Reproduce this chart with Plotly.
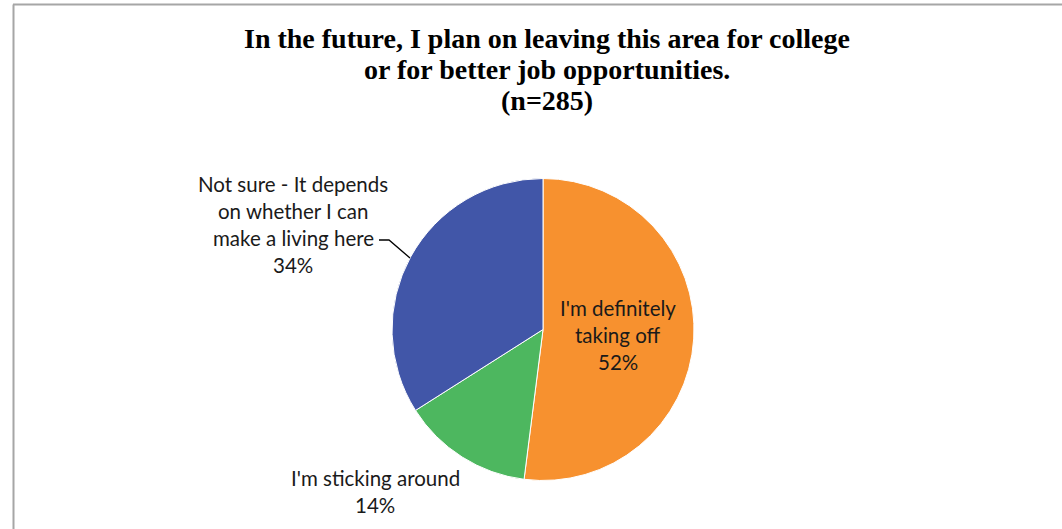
import plotly.graph_objects as go

W, H = 1062, 529

categories = ["I'm definitely taking off", "I'm sticking around",
              "Not sure - It depends on whether I can make a living here"]
label_lines = [["I'm definitely", "taking off"],
               ["I'm sticking around"],
               ["Not sure - It depends", "on whether I can", "make a living here"]]
values = [52, 14, 34]
colors = ["#F7912F", "#4DB75F", "#4156A8"]
title_lines = ["In the future, I plan on leaving this area for college",
               "or for better job opportunities.", "(n=285)"]

# pie geometry (pixels)
cx, cy, r = 543, 329.5, 151

fig = go.Figure(go.Pie(
    labels=categories, values=values, sort=False, direction="clockwise",
    rotation=0, marker=dict(colors=colors, line=dict(color="white", width=1)),
    textinfo="none", hoverinfo="label+percent", showlegend=False,
    domain=dict(x=[(cx - r) / W, (cx + r) / W], y=[(H - cy - r) / H, (H - cy + r) / H]),
))

def px(x):
    return x / W

def py(y):
    return 1 - y / H

label_font = dict(family="Lato, 'Open Sans', sans-serif", size=20.5, color="#1a1a1a")
# label centers (pixels): x center, y of first line
label_pos = [(618, 308), (375, 478), (293, 184)]
line_gap = 27
annotations = []
for i, (lines, v) in enumerate(zip(label_lines, values)):
    x0, y0 = label_pos[i]
    all_lines = lines + [f"{v}%"]
    for j, t in enumerate(all_lines):
        annotations.append(dict(
            x=px(x0), y=py(y0 + j * line_gap), xref="paper", yref="paper",
            text=t, showarrow=False, font=label_font, xanchor="center", yanchor="middle"))

for j, t in enumerate(title_lines):
    annotations.append(dict(
        x=px(547), y=py(38 + j * 31), xref="paper", yref="paper", text=f"<b>{t}</b>",
        showarrow=False, xanchor="center", yanchor="middle",
        font=dict(family="'Liberation Serif', 'DejaVu Serif', serif", size=28, color="#000000")))

shapes = [
    # chart border (top and left)
    dict(type="line", xref="paper", yref="paper", x0=px(13), x1=1.0, y0=py(4.5), y1=py(4.5),
         line=dict(color="#A6A6A6", width=2)),
    dict(type="line", xref="paper", yref="paper", x0=px(13.5), x1=px(13.5), y0=py(4.5), y1=0,
         line=dict(color="#A6A6A6", width=2)),
    # leader line for blue label
    dict(type="path", xref="paper", yref="paper",
         path=f"M {px(379)} {py(240)} L {px(389)} {py(240)} L {px(410)} {py(258)}",
         line=dict(color="#000000", width=1.3)),
]

fig.update_layout(
    width=W, height=H, margin=dict(l=0, r=0, t=0, b=0),
    paper_bgcolor="white", plot_bgcolor="white",
    annotations=annotations, shapes=shapes,
)
fig.write_html("out.html", config={"displayModeBar": False},
               post_script="document.body.style.margin='0';")
